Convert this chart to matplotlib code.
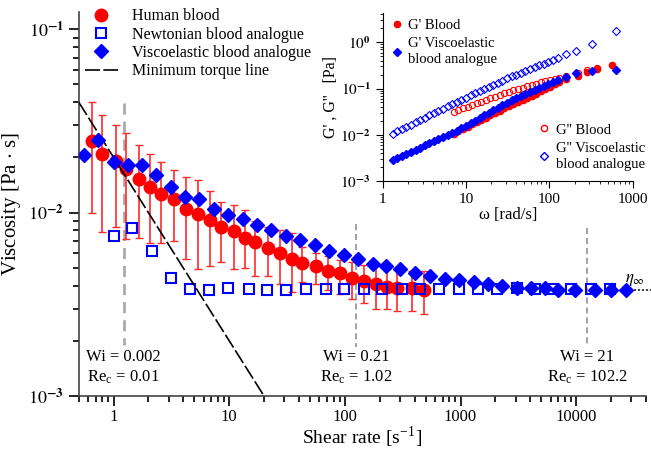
import matplotlib
matplotlib.use("Agg")
import matplotlib.pyplot as plt
from matplotlib.lines import Line2D

plt.rcParams['font.family'] = ['Liberation Serif', 'DejaVu Serif']
plt.rcParams['mathtext.fontset'] = 'stix'

# ---- main plot data: viscosity vs shear rate ----
blood_rate = [0.65, 0.80, 1.05, 1.29, 1.65, 2.05, 2.59, 3.31, 4.26, 5.33, 6.82, 8.47, 10.9,
              13.7, 16.8, 21.7, 27.3, 35.2, 42.3, 55.8, 71.3, 90, 116, 145, 184, 232, 283, 380, 487]
blood_visc = [0.0247, 0.0208, 0.0191, 0.0172, 0.0152, 0.0138, 0.0127, 0.0119, 0.0105, 0.0098, 0.0091,
              0.0084, 0.0079, 0.0073, 0.0069, 0.0064, 0.0060, 0.0056, 0.0053, 0.0051, 0.0048, 0.00466,
              0.0044, 0.00424, 0.0041, 0.00395, 0.0039, 0.0039, 0.0038]
blood_hi = [0.040, 0.034, 0.030, 0.0273, 0.0233, 0.0209, 0.0189, 0.0170, 0.0156, 0.0150, 0.0131,
            0.0114, 0.0110, 0.0103, 0.0090, 0.0084, 0.0080, 0.0077, 0.0065, 0.0060, 0.0058, 0.0055,
            0.0054, 0.0052, 0.0051, 0.0049, 0.0049, 0.0048, 0.0048]
blood_lo = [0.0099, 0.0078, 0.0083, 0.0072, 0.0073, 0.0068, 0.0068, 0.0070, 0.0056, 0.0049, 0.0051,
            0.0054, 0.0049, 0.0050, 0.0045, 0.0045, 0.0041, 0.0037, 0.0042, 0.0041, 0.0038, 0.0036,
            0.0034, 0.0032, 0.0030, 0.0030, 0.0029, 0.0029, 0.0028]

newt_rate = [1.0, 1.45, 2.14, 3.12, 4.55, 6.72, 9.8, 14.7, 21.4, 30.8, 45.8, 68, 99, 146, 210, 312,
             450, 655, 975, 1410, 2055, 3060, 4400, 6300, 9100, 13400, 19600]
newt_visc = [0.0075, 0.0082, 0.0062, 0.0044, 0.00385, 0.0038, 0.0039, 0.00385, 0.0038, 0.0038,
             0.00385, 0.00385, 0.00385, 0.00385, 0.00385, 0.00385, 0.00385, 0.00385, 0.00385,
             0.00385, 0.00385, 0.0039, 0.00385, 0.00385, 0.00385, 0.00385, 0.00385]

ve_rate = [0.55, 0.74, 1.0, 1.32, 1.77, 2.33, 3.12, 4.12, 5.51, 7.38, 9.74, 13.2, 17.5, 23.2, 30.8,
           40.9, 55.1, 72.8, 98, 130, 174, 229, 302, 406, 548, 728, 975, 1295, 1720, 2300, 3060,
           4070, 5370, 7000, 9700, 14500, 19900, 27100]
ve_visc = [0.0205, 0.0249, 0.0189, 0.0181, 0.0181, 0.0160, 0.0138, 0.0122, 0.0119, 0.0105, 0.0097,
           0.0092, 0.0086, 0.0080, 0.0075, 0.0071, 0.00664, 0.0062, 0.00585, 0.00557, 0.00528,
           0.0051, 0.0049, 0.00468, 0.0045, 0.00437, 0.00429, 0.0042, 0.0041, 0.0040, 0.0039,
           0.0039, 0.00386, 0.0038, 0.0038, 0.0038, 0.0038, 0.0038]

torque_rate = [0.5, 20]
torque_visc = [0.04, 0.001]

wi_rate = [1.22, 126, 12400]
wi_top = [0.0396, 0.0087, 0.0082]
wi_text = ["Wi = 0.002", "Wi = 0.21", "Wi = 21"]
re_text = ["0.01", "1.02", "102.2"]

eta_inf = 0.0038

# ---- inset data: G', G'' vs omega ----
w_ve = [1.31, 1.49, 1.69, 1.92, 2.18, 2.47, 2.8, 3.18, 3.61, 4.1, 4.65, 5.28, 5.99, 6.8, 7.72,
        8.76, 9.94, 11.3, 12.8, 14.5, 16.5, 18.7, 21.2, 24.1, 27.3, 31, 35.2, 39.9, 45.3, 51.4,
        58.4, 66.2, 75.2, 85.3, 96.8, 110, 126, 160, 207, 326, 627]
g1_ve = [0.00285, 0.00316, 0.0035, 0.00388, 0.0043, 0.00476, 0.00527, 0.00585, 0.00648, 0.00718,
         0.00795, 0.00881, 0.00977, 0.0108, 0.0122, 0.0139, 0.0158, 0.0179, 0.0203, 0.0231,
         0.0262, 0.0297, 0.0337, 0.0383, 0.0435, 0.0493, 0.0564, 0.0631, 0.0706, 0.0775, 0.0849,
         0.0931, 0.102, 0.113, 0.124, 0.137, 0.152, 0.174, 0.213, 0.244, 0.257]
g2_ve = [0.0106, 0.0119, 0.0133, 0.0149, 0.0166, 0.0186, 0.0208, 0.0233, 0.0261, 0.0292, 0.0327,
         0.0366, 0.041, 0.0459, 0.0514, 0.0574, 0.0638, 0.071, 0.0789, 0.0877, 0.0975, 0.108,
         0.12, 0.134, 0.149, 0.165, 0.182, 0.199, 0.218, 0.24, 0.263, 0.288, 0.316, 0.346, 0.377,
         0.411, 0.45, 0.55, 0.645, 0.90, 1.75]
w_bl = [7.1, 8.07, 9.16, 10.4, 11.8, 13.4, 15.2, 17.3, 19.6, 22.2, 25.2, 28.6, 32.5, 36.9, 41.9,
        47.5, 54, 61.3, 69.5, 78.9, 89.6, 102, 115, 131, 158, 221, 279, 374, 571]
g1_bl = [0.0106, 0.0119, 0.0133, 0.0149, 0.0167, 0.0187, 0.021, 0.0235, 0.0263, 0.0295, 0.033,
         0.037, 0.0415, 0.0461, 0.0513, 0.0569, 0.0632, 0.0702, 0.078, 0.0865, 0.0973, 0.109,
         0.124, 0.139, 0.16, 0.19, 0.224, 0.265, 0.33]
w_bl2 = w_bl[:28]
g2_bl = [0.0314, 0.0341, 0.0371, 0.0403, 0.0439, 0.0477, 0.0519, 0.0564, 0.0613, 0.0667, 0.0725,
         0.0788, 0.0855, 0.0912, 0.0973, 0.104, 0.111, 0.118, 0.126, 0.135, 0.144, 0.153, 0.163,
         0.172, 0.19, 0.213, 0.25, 0.28]

fig = plt.figure(figsize=(6.51, 4.49), dpi=100)
ax = fig.add_axes([0.121, 0.118, 0.871, 0.855])

err_lo = [v - l for v, l in zip(blood_visc, blood_lo)]
err_hi = [h - v for v, h in zip(blood_visc, blood_hi)]
ax.errorbar(blood_rate, blood_visc, yerr=[err_lo, err_hi], fmt='none', ecolor='#ff2a2a',
            elinewidth=1.2, capsize=3, capthick=1.0, zorder=2)
ax.plot(blood_rate, blood_visc, 'o', color='#ff0000', ms=9, zorder=3, label='Human blood')
ax.plot(newt_rate, newt_visc, 's', mfc='none', mec='#0000ff', mew=1.5, ms=7.5, zorder=3,
        label='Newtonian blood analogue')
ax.plot(ve_rate, ve_visc, 'D', color='#0000ff', ms=7.5, zorder=4, label='Viscoelastic blood analogue')
ax.plot(torque_rate, torque_visc, color='black', lw=1.2, dashes=(9, 2), zorder=3,
        label='Minimum torque line')

for i in range(3):
    if i == 0:
        ax.plot([wi_rate[i]] * 2, [wi_top[i], 0.0019], color='#aaaaaa', lw=2, dashes=(4, 2.5), zorder=1)
    else:
        ax.plot([wi_rate[i]] * 2, [wi_top[i], 0.00185], color='#888888', lw=1.1, dashes=(4, 2.5), zorder=1)
    ax.text(wi_rate[i], 0.00163, wi_text[i], ha='center', va='center', fontsize=12)
    ax.text(wi_rate[i], 0.00127, r'Re$_\mathregular{c}$ = ' + re_text[i], ha='center', va='center', fontsize=12)

ax.plot([29500, 45000], [eta_inf, eta_inf], color='#333333', lw=1.3, ls=(0, (1.2, 1)), clip_on=False)
ax.text(26500, 0.0043, r'$\eta_\infty$', fontsize=12, ha='left', va='center')

ax.set_xscale('log')
ax.set_yscale('log')
ax.set_xlim(0.5, 40000)
ax.set_ylim(0.001, 0.124)
ax.set_xticks([1, 10, 100, 1000, 10000])
ax.set_xticklabels(['1', '10', '100', '1000', '10000'])
ax.set_yticks([0.001, 0.01, 0.1])
ax.set_yticklabels([r'$10^{\mathbf{-3}}$', r'$10^{\mathbf{-2}}$', r'$10^{\mathbf{-1}}$'])
ax.tick_params(which='both', direction='out', width=1.2)
ax.tick_params(axis='x', labelsize=12, pad=2)
ax.tick_params(axis='y', labelsize=13)
ax.tick_params(which='major', length=7)
ax.tick_params(which='minor', length=4)
for s in ['top', 'right']:
    ax.spines[s].set_visible(False)
for s in ['left', 'bottom']:
    ax.spines[s].set_linewidth(1.2)
    ax.spines[s].set_color('#444444')
ax.set_xlabel(r'Shear rate [s$^\mathregular{-1}$]', fontsize=14)
ax.xaxis.set_label_coords(0.5, -0.076)
ax.set_ylabel(r'Viscosity [Pa $\cdot$ s]', fontsize=15, labelpad=4)

ax.legend(loc='upper left', bbox_to_anchor=(-0.015, 1.047), frameon=False, fontsize=11.5,
          handlelength=2.1, handletextpad=0.89, labelspacing=0.14, numpoints=1)

# ---- inset ----
ins = fig.add_axes([0.588, 0.597, 0.384, 0.374])
ins.plot(w_ve, g2_ve, 'D', mfc='none', mec='#0000ff', mew=0.8, ms=3.6)
ins.plot(w_bl2, g2_bl, 'o', mfc='none', mec='#ff0000', mew=0.8, ms=4.5)
ins.plot(w_bl, g1_bl, 'o', color='#ff0000', ms=4.5)
ins.plot(w_ve, g1_ve, 'D', color='#0000ff', ms=3.6)
ins.set_xscale('log')
ins.set_yscale('log')
ins.set_xlim(1, 1000)
ins.set_ylim(0.001, 4.3)
ins.set_xticks([1, 10, 100, 1000])
ins.set_xticklabels(['1', '10', '100', '1000'])
ins.set_yticks([0.001, 0.01, 0.1, 1])
ins.set_yticklabels([r'$10^{\mathbf{-3}}$', r'$10^{\mathbf{-2}}$', r'$10^{\mathbf{-1}}$', r'$10^{\mathbf{0}}$'])
ins.tick_params(which='both', direction='out', labelsize=11)
ins.tick_params(which='major', length=5)
ins.tick_params(which='minor', length=2.5)
for s in ['top', 'right']:
    ins.spines[s].set_visible(False)
ins.set_xlabel('ω [rad/s]', fontsize=12, labelpad=1)
ins.set_ylabel("G' , G''   [Pa]", fontsize=11.5, labelpad=1)

h1 = [Line2D([], [], ls='none', marker='o', color='#ff0000', ms=4.5),
      Line2D([], [], ls='none', marker='D', color='#0000ff', ms=3.6)]
l1 = ["G' Blood", "G' Viscoelastic\nblood analogue"]
leg1 = ins.legend(h1, l1, loc='upper left', bbox_to_anchor=(-0.02, 1.045), frameon=False, fontsize=10.5,
                  handlelength=0.8, handletextpad=0.4, labelspacing=0.35)
for t in leg1.get_texts():
    t.set_linespacing(1.35)
ins.add_artist(leg1)
h2 = [Line2D([], [], ls='none', marker='o', mfc='none', mec='#ff0000', ms=4.5),
      Line2D([], [], ls='none', marker='D', mfc='none', mec='#0000ff', ms=3.6)]
l2 = ["G'' Blood", "G'' Viscoelastic\nblood analogue"]
leg2 = ins.legend(h2, l2, loc='lower right', bbox_to_anchor=(1.1, -0.02), frameon=False, fontsize=10.5,
                  handlelength=0.8, handletextpad=0.4, labelspacing=0.35)
for t in leg2.get_texts():
    t.set_linespacing(1.35)

fig.savefig('out.png', dpi=100)
